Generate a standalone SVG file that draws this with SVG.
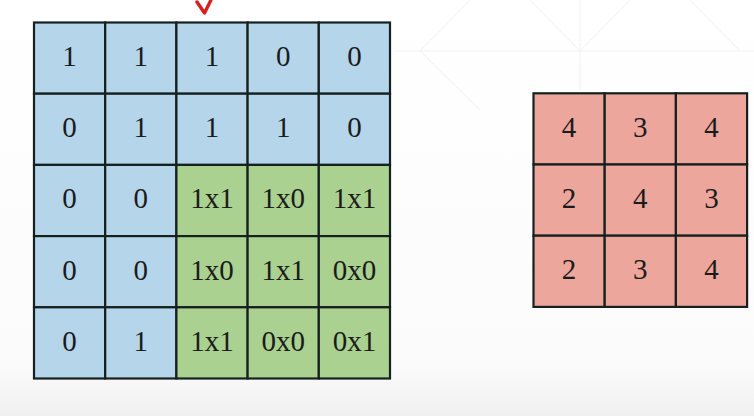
<svg xmlns="http://www.w3.org/2000/svg" width="754" height="416" viewBox="0 0 754 416">
<defs>
<linearGradient id="bg" x1="0" y1="0" x2="0" y2="1">
<stop offset="0" stop-color="#ffffff"/>
<stop offset="0.88" stop-color="#fbfbfb"/>
<stop offset="1" stop-color="#f0f0f0"/>
</linearGradient>
</defs>
<style>
.b{fill:#b5d5ea}
.g{fill:#aad18f}
.r{fill:#eca69c}
.c{stroke:#16201f;stroke-width:2.2}
.t{font-family:"Liberation Serif","Times New Roman",serif;font-size:29px;fill:#1b1b1b;text-anchor:middle}
.bgl{stroke:#f1f1f1;stroke-width:1;fill:none}
</style>
<rect width="754" height="416" fill="url(#bg)"/>
<g class="bgl">
<line x1="395" y1="51" x2="754" y2="51"/>
<line x1="580" y1="0" x2="580" y2="90"/>
<line x1="420" y1="51" x2="470" y2="0"/>
<line x1="420" y1="51" x2="480" y2="110"/>
<line x1="580" y1="51" x2="530" y2="0"/>
<line x1="580" y1="51" x2="630" y2="0"/>
<line x1="740" y1="51" x2="690" y2="0"/>
</g>
<g id="pointer">
<polyline points="197,2 204.5,13 211,0" fill="none" stroke="#d81e1e" stroke-width="3.4" stroke-linejoin="round" stroke-linecap="round"/>
</g>
<g id="input">
<g id="i00"><rect class="b c" x="34" y="22.5" width="71.2" height="71.2"/><text class="t" x="69.6" y="66">1</text></g>
<g id="i01"><rect class="b c" x="105.2" y="22.5" width="71.2" height="71.2"/><text class="t" x="140.8" y="66">1</text></g>
<g id="i02"><rect class="b c" x="176.4" y="22.5" width="71.2" height="71.2"/><text class="t" x="212" y="66">1</text></g>
<g id="i03"><rect class="b c" x="247.6" y="22.5" width="71.2" height="71.2"/><text class="t" x="283.2" y="66">0</text></g>
<g id="i04"><rect class="b c" x="318.8" y="22.5" width="71.2" height="71.2"/><text class="t" x="354.4" y="66">0</text></g>

<g id="i10"><rect class="b c" x="34" y="93.7" width="71.2" height="71.2"/><text class="t" x="69.6" y="137.2">0</text></g>
<g id="i11"><rect class="b c" x="105.2" y="93.7" width="71.2" height="71.2"/><text class="t" x="140.8" y="137.2">1</text></g>
<g id="i12"><rect class="b c" x="176.4" y="93.7" width="71.2" height="71.2"/><text class="t" x="212" y="137.2">1</text></g>
<g id="i13"><rect class="b c" x="247.6" y="93.7" width="71.2" height="71.2"/><text class="t" x="283.2" y="137.2">1</text></g>
<g id="i14"><rect class="b c" x="318.8" y="93.7" width="71.2" height="71.2"/><text class="t" x="354.4" y="137.2">0</text></g>

<g id="i20"><rect class="b c" x="34" y="164.9" width="71.2" height="71.2"/><text class="t" x="69.6" y="208.4">0</text></g>
<g id="i21"><rect class="b c" x="105.2" y="164.9" width="71.2" height="71.2"/><text class="t" x="140.8" y="208.4">0</text></g>
<g id="i22"><rect class="g c" x="176.4" y="164.9" width="71.2" height="71.2"/><text class="t" x="212" y="208.4">1x1</text></g>
<g id="i23"><rect class="g c" x="247.6" y="164.9" width="71.2" height="71.2"/><text class="t" x="283.2" y="208.4">1x0</text></g>
<g id="i24"><rect class="g c" x="318.8" y="164.9" width="71.2" height="71.2"/><text class="t" x="354.4" y="208.4">1x1</text></g>

<g id="i30"><rect class="b c" x="34" y="236.1" width="71.2" height="71.2"/><text class="t" x="69.6" y="279.6">0</text></g>
<g id="i31"><rect class="b c" x="105.2" y="236.1" width="71.2" height="71.2"/><text class="t" x="140.8" y="279.6">0</text></g>
<g id="i32"><rect class="g c" x="176.4" y="236.1" width="71.2" height="71.2"/><text class="t" x="212" y="279.6">1x0</text></g>
<g id="i33"><rect class="g c" x="247.6" y="236.1" width="71.2" height="71.2"/><text class="t" x="283.2" y="279.6">1x1</text></g>
<g id="i34"><rect class="g c" x="318.8" y="236.1" width="71.2" height="71.2"/><text class="t" x="354.4" y="279.6">0x0</text></g>

<g id="i40"><rect class="b c" x="34" y="307.3" width="71.2" height="71.2"/><text class="t" x="69.6" y="350.8">0</text></g>
<g id="i41"><rect class="b c" x="105.2" y="307.3" width="71.2" height="71.2"/><text class="t" x="140.8" y="350.8">1</text></g>
<g id="i42"><rect class="g c" x="176.4" y="307.3" width="71.2" height="71.2"/><text class="t" x="212" y="350.8">1x1</text></g>
<g id="i43"><rect class="g c" x="247.6" y="307.3" width="71.2" height="71.2"/><text class="t" x="283.2" y="350.8">0x0</text></g>
<g id="i44"><rect class="g c" x="318.8" y="307.3" width="71.2" height="71.2"/><text class="t" x="354.4" y="350.8">0x1</text></g>
</g>
<g id="output">
<g id="o00"><rect class="r c" x="533.5" y="93.3" width="71.2" height="71.2"/><text class="t" x="569.1" y="137">4</text></g>
<g id="o01"><rect class="r c" x="604.7" y="93.3" width="71.2" height="71.2"/><text class="t" x="640.3" y="137">3</text></g>
<g id="o02"><rect class="r c" x="675.9" y="93.3" width="71.2" height="71.2"/><text class="t" x="711.5" y="137">4</text></g>
<g id="o10"><rect class="r c" x="533.5" y="164.5" width="71.2" height="71.2"/><text class="t" x="569.1" y="208.2">2</text></g>
<g id="o11"><rect class="r c" x="604.7" y="164.5" width="71.2" height="71.2"/><text class="t" x="640.3" y="208.2">4</text></g>
<g id="o12"><rect class="r c" x="675.9" y="164.5" width="71.2" height="71.2"/><text class="t" x="711.5" y="208.2">3</text></g>
<g id="o20"><rect class="r c" x="533.5" y="235.7" width="71.2" height="71.2"/><text class="t" x="569.1" y="279.4">2</text></g>
<g id="o21"><rect class="r c" x="604.7" y="235.7" width="71.2" height="71.2"/><text class="t" x="640.3" y="279.4">3</text></g>
<g id="o22"><rect class="r c" x="675.9" y="235.7" width="71.2" height="71.2"/><text class="t" x="711.5" y="279.4">4</text></g>
</g>
</svg>
